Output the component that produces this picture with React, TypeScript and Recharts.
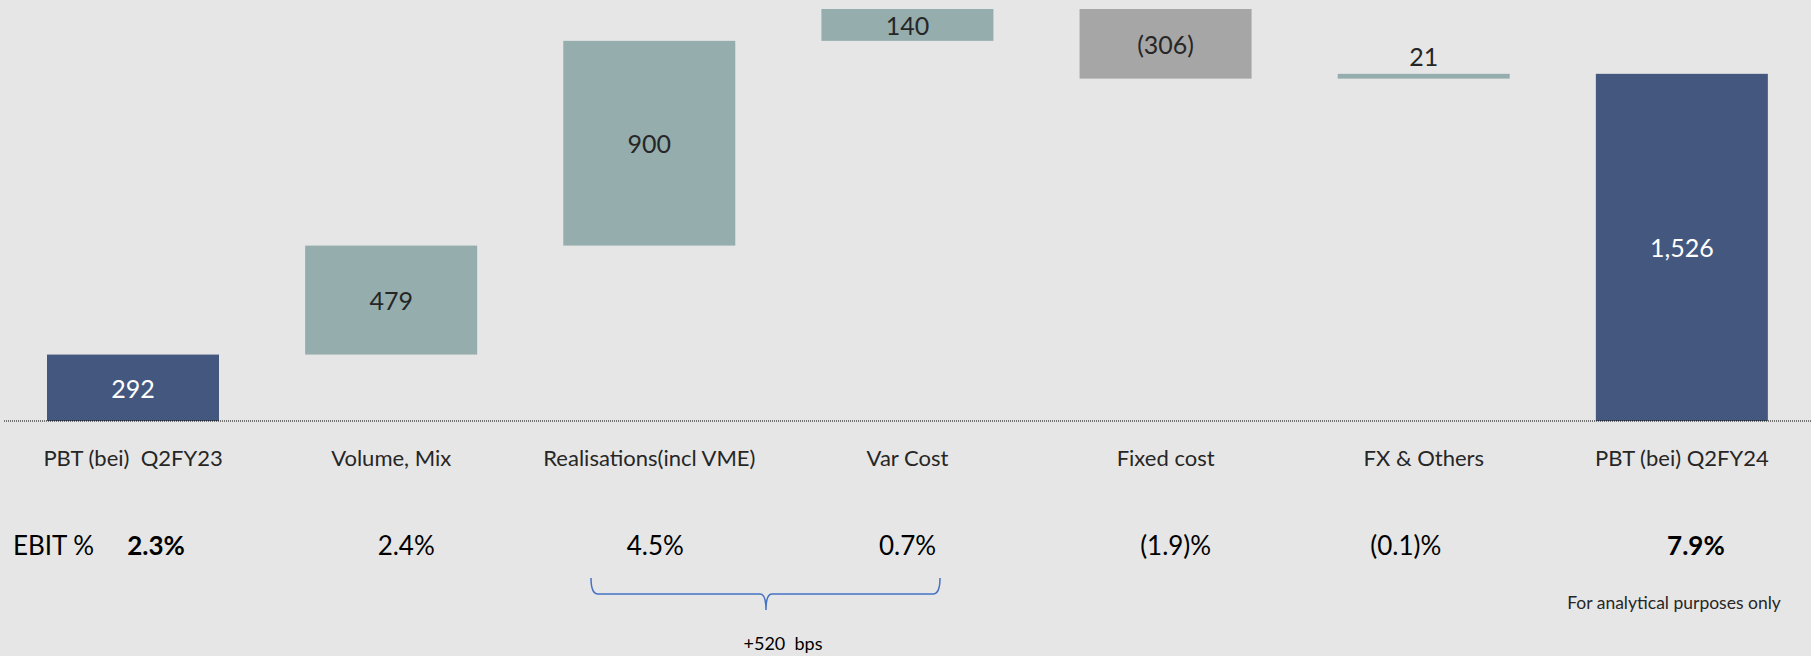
import React from "react";
import { BarChart, Bar, XAxis, YAxis, ReferenceLine } from "recharts";

const categories = [
  "PBT (bei)  Q2FY23",
  "Volume, Mix",
  "Realisations(incl VME)",
  "Var Cost",
  "Fixed cost",
  "FX & Others",
  "PBT (bei) Q2FY24",
];
const deltas = [292, 479, 900, 140, -306, 21, 1526];
const isTotal = [true, false, false, false, false, false, true];
const valueLabels = ["292", "479", "900", "140", "(306)", "21", "1,526"];
const ebitLabels = ["2.3%", "2.4%", "4.5%", "0.7%", "(1.9)%", "(0.1)%", "7.9%"];
const ebitBold = [true, false, false, false, false, false, true];

// small horizontal nudges for the EBIT row (layout, not data)
const ebitNudge = [23, 15, 6, 0, 10, -18, 14];

const W = 1811;
const H = 656;
const FONT = "Lato, 'Open Sans', sans-serif";
const NAVY = "#44587f";
const TEAL = "#95adad";
const GREY = "#a6a6a6";
const INK = "#262626";

type Row = {
  name: string;
  base: number;
  size: number;
  kind: "total" | "up" | "down";
  label: string;
  ebit: string;
  bold: boolean;
  nudge: number;
};

let running = 0;
const rows: Row[] = categories.map((name, i) => {
  const d = deltas[i];
  let base = 0;
  let size = d;
  let kind: Row["kind"] = "total";
  if (isTotal[i]) {
    running = d;
  } else {
    const next = running + d;
    base = Math.min(running, next);
    size = Math.abs(d);
    kind = d >= 0 ? "up" : "down";
    running = next;
  }
  return {
    name,
    base,
    size,
    kind,
    label: valueLabels[i],
    ebit: ebitLabels[i],
    bold: ebitBold[i],
    nudge: ebitNudge[i],
  };
});
const peak = Math.max(...rows.map((r) => r.base + r.size));

const WaterfallBar = (props: any) => {
  const { x, y, width, height, payload } = props;
  const fill = payload.kind === "total" ? NAVY : payload.kind === "up" ? TEAL : GREY;
  const color = payload.kind === "total" ? "#ffffff" : INK;
  const above = height < 20;
  const ty = above ? y - 18 : y + height / 2;
  return (
    <g>
      <rect x={x} y={y} width={width} height={height} fill={fill} />
      <text
        x={x + width / 2}
        y={ty}
        textAnchor="middle"
        dominantBaseline="central"
        fontFamily={FONT}
        fontSize={25}
        fill={color}
      >
        {payload.label}
      </text>
    </g>
  );
};

const CategoryTick = (props: any) => {
  const { x, y, index } = props;
  const r = rows[index];
  return (
    <g>
      <text
        x={x}
        y={y + 36}
        textAnchor="middle"
        dominantBaseline="central"
        fontFamily={FONT}
        fontSize={22}
        fill={INK}
        style={{ whiteSpace: "pre" }}
      >
        {r.name}
      </text>
      <text
        x={x + r.nudge}
        y={y + 124}
        textAnchor="middle"
        dominantBaseline="central"
        fontFamily={FONT}
        fontSize={26}
        fontWeight={r.bold ? 700 : 400}
        fill="#000"
      >
        {r.ebit}
      </text>
    </g>
  );
};

export default function App() {
  return (
    <div
      style={{
        position: "absolute",
        left: 0,
        top: 0,
        width: W,
        height: H,
        background: "#e6e6e6",
        overflow: "hidden",
      }}
    >
      <BarChart
        width={W}
        height={H}
        data={rows}
        margin={{ top: 9, right: 0, left: 4, bottom: 0 }}
        barSize={172}
      >
        <XAxis
          dataKey="name"
          height={235}
          axisLine={false}
          tickLine={false}
          tickSize={0}
          tickMargin={0}
          interval={0}
          tick={<CategoryTick />}
        />
        <YAxis hide domain={[0, peak]} allowDataOverflow />
        <Bar dataKey="base" stackId="w" fill="transparent" isAnimationActive={false} />
        <Bar dataKey="size" stackId="w" shape={<WaterfallBar />} isAnimationActive={false} />
        <ReferenceLine y={0} stroke="#000" strokeDasharray="1 1" strokeWidth={1} />
      </BarChart>
      <svg
        width={W}
        height={H}
        style={{ position: "absolute", left: 0, top: 0, pointerEvents: "none" }}
      >
        <text x={13} y={545} dominantBaseline="central" fontFamily={FONT} fontSize={26} fill="#000">
          EBIT %
        </text>
        <path
          d="M591 578 Q591 594 598 594 L760 594 Q766 594 766 610 Q766 594 772 594 L933 594 Q940 594 940 578"
          fill="none"
          stroke="#4472c4"
          strokeWidth={1.5}
        />
        <text
          x={783}
          y={643}
          textAnchor="middle"
          dominantBaseline="central"
          fontFamily={FONT}
          fontSize={18}
          fill="#000"
          style={{ whiteSpace: "pre" }}
        >
          {"+520  bps"}
        </text>
        <text
          x={1674}
          y={602}
          textAnchor="middle"
          dominantBaseline="central"
          fontFamily={FONT}
          fontSize={17.5}
          fill={INK}
        >
          For analytical purposes only
        </text>
      </svg>
    </div>
  );
}
